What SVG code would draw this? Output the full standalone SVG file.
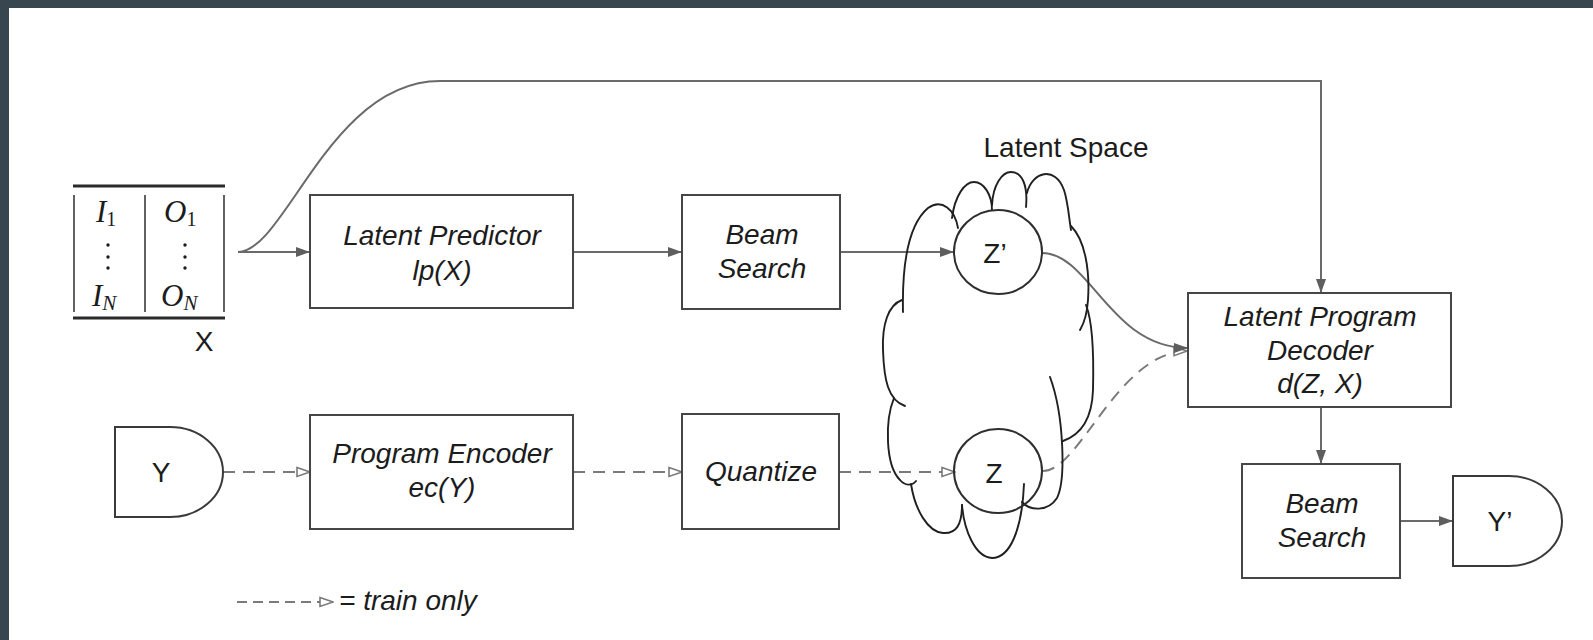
<svg xmlns="http://www.w3.org/2000/svg" width="1593" height="640" viewBox="0 0 1593 640">
<defs>
<style>
.box{fill:#fff;stroke:#464646;stroke-width:2}
.shape{fill:#fff;stroke:#3a3a3a;stroke-width:2}
.ell{fill:none;stroke:#2e2e2e;stroke-width:2}
.it{font-family:'Liberation Sans',Arial,sans-serif;font-size:28px;font-style:italic;fill:#1c1c1c;text-anchor:middle}
.up{font-family:'Liberation Sans',Arial,sans-serif;font-size:28px;fill:#1c1c1c;text-anchor:middle}
.math{font-family:'Liberation Serif','Times New Roman',serif;font-size:31px;font-style:italic;fill:#1c1c1c}
.sub{font-style:normal;font-size:20px}
.subi{font-style:italic;font-size:21px}
.conn{fill:none;stroke:#6a6a6a;stroke-width:2}
.dash{stroke:#7a7a7a;stroke-dasharray:12 8}
.cloud{fill:none;stroke:#202020;stroke-width:1.9;stroke-linecap:round}
.rule{stroke:#2a2a2a;stroke-width:3}
.vr{stroke:#3a3a3a;stroke-width:1.6}
</style>
<marker id="arr" viewBox="0 0 14 10" refX="14" refY="5" markerWidth="14" markerHeight="10" markerUnits="userSpaceOnUse" orient="auto">
<path d="M0,0 L14,5 L0,10 z" fill="#5e5e5e"/>
</marker>
<marker id="harr" viewBox="-1 -1 15 12" refX="13" refY="5" markerWidth="15" markerHeight="12" markerUnits="userSpaceOnUse" orient="auto">
<path d="M0,0.5 L13,5 L0,9.5 z" fill="#fff" stroke="#7a7a7a" stroke-width="1.6"/>
</marker>
</defs>

<rect x="0" y="0" width="1593" height="640" fill="#fff"/>
<rect x="0" y="0" width="1593" height="8" fill="#37464f"/>
<rect x="0" y="0" width="9" height="640" fill="#37464f"/>

<g id="connectors">
<path class="conn" d="M238,252 C285,252 330,81 440,81 L1321,81 L1321,293" marker-end="url(#arr)"/>
<path class="conn" d="M238,252 L310,252" marker-end="url(#arr)"/>
<path class="conn" d="M573,252 L682,252" marker-end="url(#arr)"/>
<path class="conn" d="M840,252 L954,252" marker-end="url(#arr)"/>
<path class="conn dash" d="M223,472 L310,472" marker-end="url(#harr)"/>
<path class="conn dash" d="M573,472 L682,472" marker-end="url(#harr)"/>
<path class="conn dash" d="M839,472 L955,472" marker-end="url(#harr)"/>
<path class="conn dash" d="M1043,471 C1080,471 1118,352 1187,351" marker-end="url(#harr)"/>
<path class="conn" d="M1042,253 C1090,253 1110,348 1188,348" marker-end="url(#arr)"/>
<path class="conn" d="M1321,407 L1321,464" marker-end="url(#arr)"/>
<path class="conn" d="M1400,521 L1453,521" marker-end="url(#arr)"/>
</g>

<g id="table-X">
<line class="rule" x1="73" y1="186" x2="225" y2="186"/>
<line class="rule" x1="73" y1="318" x2="225" y2="318"/>
<line class="vr" x1="74" y1="195" x2="74" y2="312"/>
<line class="vr" x1="145" y1="195" x2="145" y2="312"/>
<line class="vr" x1="224" y1="195" x2="224" y2="312"/>
<text class="math" x="96" y="222">I<tspan class="sub" dy="4">1</tspan></text>
<text class="math" x="164" y="222">O<tspan class="sub" dy="4">1</tspan></text>
<g fill="#1c1c1c">
<circle cx="108" cy="245" r="1.7"/><circle cx="108" cy="257" r="1.7"/><circle cx="108" cy="268" r="1.7"/>
<circle cx="185" cy="245" r="1.7"/><circle cx="185" cy="257" r="1.7"/><circle cx="185" cy="268" r="1.7"/>
</g>
<text class="math" x="92" y="306">I<tspan class="subi" dy="4">N</tspan></text>
<text class="math" x="161" y="306">O<tspan class="subi" dy="4">N</tspan></text>
<text class="up" x="204" y="351">X</text>
</g>

<g id="latent-predictor">
<rect class="box" x="310" y="195" width="263" height="113"/>
<text class="it" x="442" y="245">Latent Predictor</text>
<text class="it" x="442" y="280">lp(X)</text>
</g>

<g id="beam-search-1">
<rect class="box" x="682" y="195" width="158" height="114"/>
<text class="it" x="762" y="244">Beam</text>
<text class="it" x="762" y="278">Search</text>
</g>

<g id="latent-space">
<text class="up" x="1066" y="157">Latent Space</text>
<path class="cloud" d="M903,312 C902,265 908,225 928,208 C942,198 955,210 958,228"/>
<path class="cloud" d="M952,218 C955,195 965,182 974,182 C984,182 992,195 992,210"/>
<path class="cloud" d="M992,205 C993,185 1002,172 1011,172 C1022,172 1028,185 1026,207"/>
<path class="cloud" d="M1027,193 C1032,172 1055,165 1064,190 C1068,202 1069,218 1071,230"/>
<path class="cloud" d="M1071,226 C1085,240 1090,270 1088,300 C1087,315 1083,325 1080,330"/>
<path class="cloud" d="M1086,305 C1092,320 1094,350 1093,390 C1092,420 1080,435 1063,441"/>
<path class="cloud" d="M1050,377 C1064,415 1066,480 1057,498 C1048,512 1030,511 1022,502"/>
<path class="cloud" d="M962,505 C964,530 975,557 992,558 C1010,558 1022,530 1024,484"/>
<path class="cloud" d="M911,484 C915,510 928,532 943,533 C956,534 962,525 962,505"/>
<path class="cloud" d="M894,398 C885,420 885,465 900,480 C905,486 912,486 916,481"/>
<path class="cloud" d="M902,300 C888,305 882,325 883,350 C884,380 888,400 905,406"/>
</g>

<g id="z-prime">
<ellipse class="ell" cx="998" cy="252" rx="44" ry="42"/>
<text class="up" x="995" y="263">Z’</text>
</g>

<g id="z">
<ellipse class="ell" cx="998" cy="471" rx="44" ry="42"/>
<text class="up" x="994" y="483">Z</text>
</g>

<g id="latent-program-decoder">
<rect class="box" x="1188" y="293" width="263" height="114"/>
<text class="it" x="1320" y="326">Latent Program</text>
<text class="it" x="1320" y="360">Decoder</text>
<text class="it" x="1320" y="393">d(Z, X)</text>
</g>

<g id="beam-search-2">
<rect class="box" x="1242" y="464" width="158" height="114"/>
<text class="it" x="1322" y="513">Beam</text>
<text class="it" x="1322" y="547">Search</text>
</g>

<g id="y-input">
<path class="shape" d="M115,427 L170,427 A53,45 0 0 1 170,517 L115,517 Z"/>
<text class="up" x="161" y="482">Y</text>
</g>

<g id="program-encoder">
<rect class="box" x="310" y="415" width="263" height="114"/>
<text class="it" x="442" y="463">Program Encoder</text>
<text class="it" x="442" y="497">ec(Y)</text>
</g>

<g id="quantize">
<rect class="box" x="682" y="414" width="157" height="115"/>
<text class="it" x="761" y="481">Quantize</text>
</g>

<g id="y-output">
<path class="shape" d="M1453,476 L1509,476 A53,45 0 0 1 1509,566 L1453,566 Z"/>
<text class="up" x="1500" y="531">Y’</text>
</g>

<g id="legend">
<path class="conn dash" d="M237,602 L333,602" marker-end="url(#harr)" style="stroke-dasharray:10 6"/>
<text class="it" x="339" y="610" style="text-anchor:start">= train only</text>
</g>
</svg>
